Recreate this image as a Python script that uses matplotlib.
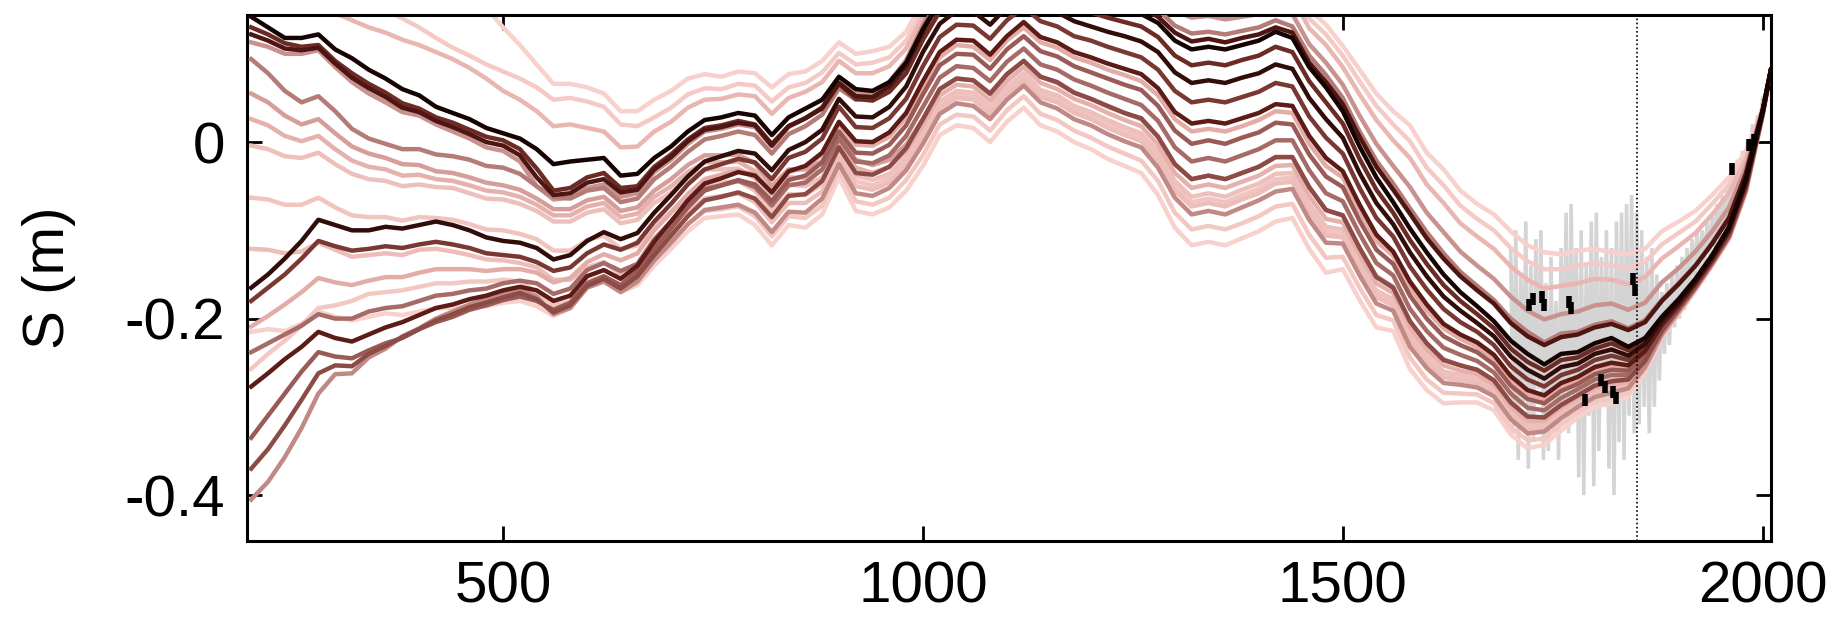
import matplotlib
matplotlib.use("Agg")
import matplotlib.pyplot as plt
from matplotlib.colors import LinearSegmentedColormap

plt.rcParams['font.family'] = ['Liberation Sans', 'DejaVu Sans']

# ---------------- data ----------------
YEARS = list(range(200, 2001, 20)) + [2010]

U_pink = [0.430, 0.420, 0.410, 0.400, 0.400, 0.380, 0.365, 0.350, 0.330, 0.310, 0.270, 0.240,
          0.210, 0.180, 0.152, 0.130, 0.110, 0.088, 0.066, 0.066, 0.062, 0.055, 0.035, 0.035,
          0.048, 0.058, 0.072, 0.077, 0.074, 0.080, 0.078, 0.062, 0.077, 0.080,
          0.092, 0.113, 0.100, 0.103, 0.108, 0.125, 0.160, 0.200, 0.220, 0.220,
          0.210, 0.230, 0.250, 0.240, 0.240, 0.235, 0.230, 0.225, 0.220, 0.215,
          0.210, 0.200, 0.195, 0.195, 0.190, 0.190, 0.190, 0.190, 0.185, 0.150,
          0.133, 0.109, 0.082, 0.055, 0.035, 0.019, -0.012, -0.031, -0.055, -0.070,
          -0.082, -0.101, -0.117, -0.125, -0.127, -0.123, -0.121, -0.125, -0.127, -0.121,
          -0.101, -0.090, -0.078, -0.060, -0.040, -0.010, 0.038, 0.082]

P2_pink = [0.340, 0.330, 0.320, 0.310, 0.310, 0.220, 0.200, 0.175, 0.150, 0.140, 0.130, 0.118,
           0.107, 0.098, 0.088, 0.080, 0.072, 0.062, 0.048, 0.050, 0.046, 0.040, 0.020, 0.018,
           0.028, 0.039, 0.054, 0.061, 0.060, 0.066, 0.064, 0.046, 0.062, 0.067,
           0.079, 0.101, 0.088, 0.090, 0.096, 0.115, 0.150, 0.190, 0.209, 0.209,
           0.198, 0.218, 0.239, 0.228, 0.227, 0.221, 0.216, 0.211, 0.206, 0.201,
           0.195, 0.183, 0.182, 0.182, 0.177, 0.178, 0.179, 0.180, 0.175, 0.140,
           0.122, 0.098, 0.069, 0.041, 0.020, 0.001, -0.029, -0.049, -0.072, -0.087,
           -0.100, -0.120, -0.135, -0.144, -0.144, -0.140, -0.137, -0.140, -0.143, -0.136,
           -0.116, -0.103, -0.090, -0.070, -0.048, -0.015, 0.038, 0.082]

P3_pink = [0.200, 0.190, 0.180, 0.170, 0.165, 0.146, 0.138, 0.130, 0.124, 0.116, 0.110, 0.102,
           0.094, 0.084, 0.072, 0.058, 0.048, 0.035, 0.018, 0.020, 0.016, 0.012, -0.006, -0.005,
           0.012, 0.023, 0.039, 0.048, 0.049, 0.054, 0.052, 0.032, 0.050, 0.057,
           0.068, 0.092, 0.078, 0.078, 0.086, 0.106, 0.142, 0.182, 0.200, 0.200,
           0.188, 0.208, 0.225, 0.213, 0.211, 0.204, 0.199, 0.194, 0.189, 0.184,
           0.176, 0.162, 0.166, 0.167, 0.163, 0.164, 0.166, 0.169, 0.164, 0.129,
           0.110, 0.085, 0.054, 0.025, 0.002, -0.018, -0.048, -0.069, -0.092, -0.107,
           -0.121, -0.141, -0.156, -0.166, -0.163, -0.160, -0.155, -0.156, -0.161, -0.153,
           -0.132, -0.118, -0.103, -0.082, -0.058, -0.020, 0.037, 0.082]

K_black = [0.142, 0.130, 0.118, 0.118, 0.122, 0.105, 0.095, 0.082, 0.072, 0.060, 0.053, 0.040,
           0.033, 0.026, 0.016, 0.010, 0.004, -0.008, -0.025, -0.022, -0.020, -0.018, -0.038, -0.036,
           -0.018, -0.005, 0.012, 0.025, 0.028, 0.033, 0.030, 0.008, 0.028, 0.038,
           0.048, 0.074, 0.060, 0.058, 0.068, 0.090, 0.128, 0.160, 0.175, 0.175,
           0.160, 0.180, 0.195, 0.180, 0.175, 0.165, 0.160, 0.155, 0.150, 0.145,
           0.135, 0.115, 0.105, 0.108, 0.105, 0.110, 0.115, 0.125, 0.118, 0.085,
           0.062, 0.035, -0.005, -0.040, -0.068, -0.098, -0.125, -0.150, -0.170, -0.186,
           -0.203, -0.225, -0.240, -0.252, -0.240, -0.238, -0.228, -0.222, -0.232, -0.222,
           -0.198, -0.178, -0.155, -0.128, -0.096, -0.042, 0.035, 0.082]

A2_dark = [0.130, 0.122, 0.112, 0.108, 0.110, 0.092, 0.078, 0.066, 0.056, 0.044, 0.038, 0.028,
           0.022, 0.014, 0.006, 0.002, -0.008, -0.030, -0.055, -0.052, -0.040, -0.035, -0.052, -0.050,
           -0.028, -0.014, 0.003, 0.016, 0.019, 0.024, 0.020, -0.002, 0.018, 0.027,
           0.038, 0.066, 0.049, 0.047, 0.057, 0.078, 0.116, 0.148, 0.163, 0.162,
           0.147, 0.167, 0.183, 0.167, 0.162, 0.152, 0.147, 0.141, 0.136, 0.131,
           0.119, 0.098, 0.087, 0.090, 0.087, 0.093, 0.098, 0.108, 0.102, 0.069,
           0.045, 0.021, -0.019, -0.054, -0.080, -0.111, -0.138, -0.162, -0.180, -0.195,
           -0.211, -0.234, -0.249, -0.259, -0.247, -0.244, -0.234, -0.228, -0.236, -0.225,
           -0.200, -0.179, -0.156, -0.129, -0.097, -0.043, 0.035, 0.082]

A4_dark = [0.122, 0.115, 0.106, 0.104, 0.107, 0.089, 0.073, 0.061, 0.051, 0.039, 0.034, 0.024,
           0.017, 0.009, 0.000, -0.004, -0.015, -0.040, -0.060, -0.058, -0.046, -0.042, -0.057, -0.054,
           -0.031, -0.017, 0.001, 0.014, 0.017, 0.022, 0.019, -0.004, 0.018, 0.027,
           0.039, 0.067, 0.052, 0.051, 0.063, 0.086, 0.125, 0.159, 0.176, 0.178,
           0.164, 0.184, 0.200, 0.186, 0.182, 0.173, 0.168, 0.162, 0.157, 0.152,
           0.142, 0.124, 0.114, 0.117, 0.113, 0.118, 0.122, 0.130, 0.124, 0.090,
           0.068, 0.043, 0.006, -0.028, -0.054, -0.081, -0.109, -0.132, -0.152, -0.168,
           -0.183, -0.205, -0.220, -0.230, -0.221, -0.218, -0.210, -0.206, -0.213, -0.204,
           -0.180, -0.161, -0.140, -0.115, -0.086, -0.036, 0.036, 0.082]

A3_rosy = [0.113, 0.108, 0.100, 0.100, 0.104, 0.085, 0.068, 0.055, 0.045, 0.034, 0.030, 0.020,
           0.012, 0.004, -0.006, -0.010, -0.022, -0.050, -0.065, -0.063, -0.052, -0.048, -0.062, -0.058,
           -0.034, -0.020, -0.002, 0.012, 0.015, 0.020, 0.017, -0.005, 0.017, 0.027,
           0.039, 0.068, 0.055, 0.055, 0.068, 0.093, 0.133, 0.169, 0.189, 0.193,
           0.180, 0.200, 0.217, 0.204, 0.201, 0.193, 0.188, 0.183, 0.178, 0.173,
           0.165, 0.149, 0.141, 0.143, 0.139, 0.142, 0.145, 0.151, 0.145, 0.111,
           0.090, 0.065, 0.030, -0.002, -0.027, -0.051, -0.080, -0.102, -0.124, -0.140,
           -0.155, -0.175, -0.191, -0.201, -0.195, -0.192, -0.185, -0.183, -0.190, -0.182,
           -0.159, -0.143, -0.124, -0.101, -0.074, -0.029, 0.036, 0.082]

B1_brown = [0.094, 0.078, 0.058, 0.045, 0.052, 0.035, 0.015, 0.004, -0.002, -0.008, -0.008, -0.014,
            -0.016, -0.020, -0.027, -0.029, -0.036, -0.050, -0.062, -0.064, -0.055, -0.052, -0.068, -0.064,
            -0.042, -0.028, -0.011, 0.003, 0.007, 0.012, 0.008, -0.013, 0.009, 0.018,
            0.031, 0.061, 0.048, 0.050, 0.064, 0.090, 0.130, 0.164, 0.182, 0.184,
            0.170, 0.190, 0.206, 0.192, 0.188, 0.179, 0.174, 0.169, 0.164, 0.159,
            0.150, 0.132, 0.123, 0.125, 0.122, 0.126, 0.130, 0.138, 0.131, 0.098,
            0.076, 0.050, 0.012, -0.021, -0.047, -0.075, -0.102, -0.126, -0.147, -0.163,
            -0.179, -0.200, -0.215, -0.227, -0.217, -0.215, -0.207, -0.203, -0.211, -0.202,
            -0.179, -0.160, -0.140, -0.114, -0.085, -0.036, 0.036, 0.082]

B2_rosy = [0.055, 0.045, 0.030, 0.020, 0.026, 0.010, -0.005, -0.013, -0.018, -0.025, -0.026, -0.033,
           -0.035, -0.040, -0.046, -0.049, -0.054, -0.064, -0.076, -0.076, -0.066, -0.062, -0.078, -0.074,
           -0.055, -0.042, -0.026, -0.015, -0.015, -0.014, -0.024, -0.050, -0.031, -0.031,
           -0.022, 0.008, -0.020, -0.026, -0.020, -0.003, 0.026, 0.060, 0.072, 0.070,
           0.054, 0.076, 0.092, 0.074, 0.067, 0.056, 0.049, 0.040, 0.033, 0.026,
           0.006, -0.025, -0.042, -0.038, -0.042, -0.035, -0.028, -0.017, -0.017, -0.051,
           -0.077, -0.083, -0.120, -0.152, -0.164, -0.203, -0.228, -0.246, -0.253, -0.258,
           -0.270, -0.295, -0.311, -0.312, -0.297, -0.287, -0.276, -0.271, -0.269, -0.248,
           -0.214, -0.189, -0.164, -0.136, -0.105, -0.053, 0.032, 0.082]

B4_pink = [0.026, 0.019, 0.007, 0.001, 0.007, -0.008, -0.021, -0.028, -0.031, -0.038, -0.037, -0.042,
           -0.044, -0.049, -0.055, -0.057, -0.062, -0.071, -0.083, -0.083, -0.073, -0.069, -0.085, -0.081,
           -0.062, -0.050, -0.034, -0.023, -0.023, -0.022, -0.033, -0.059, -0.040, -0.041,
           -0.031, 0.000, -0.029, -0.035, -0.028, -0.010, 0.019, 0.053, 0.065, 0.063,
           0.047, 0.069, 0.085, 0.067, 0.060, 0.049, 0.042, 0.033, 0.025, 0.018,
           -0.003, -0.035, -0.052, -0.048, -0.052, -0.045, -0.038, -0.027, -0.026, -0.061,
           -0.087, -0.091, -0.128, -0.160, -0.171, -0.210, -0.235, -0.253, -0.259, -0.263,
           -0.275, -0.300, -0.316, -0.316, -0.301, -0.291, -0.279, -0.275, -0.272, -0.250,
           -0.215, -0.190, -0.165, -0.137, -0.106, -0.054, 0.032, 0.082]

B3_pink = [-0.004, -0.008, -0.016, -0.018, -0.012, -0.025, -0.036, -0.042, -0.044, -0.050, -0.048, -0.051,
           -0.052, -0.058, -0.064, -0.065, -0.070, -0.078, -0.090, -0.090, -0.080, -0.076, -0.092, -0.088,
           -0.069, -0.057, -0.041, -0.031, -0.031, -0.030, -0.041, -0.067, -0.048, -0.050,
           -0.040, -0.007, -0.038, -0.043, -0.036, -0.017, 0.012, 0.046, 0.058, 0.056,
           0.040, 0.062, 0.078, 0.059, 0.053, 0.041, 0.034, 0.025, 0.017, 0.010,
           -0.011, -0.044, -0.062, -0.058, -0.062, -0.054, -0.047, -0.036, -0.035, -0.070,
           -0.096, -0.099, -0.136, -0.168, -0.178, -0.217, -0.242, -0.260, -0.264, -0.268,
           -0.279, -0.305, -0.320, -0.320, -0.305, -0.294, -0.282, -0.278, -0.274, -0.251,
           -0.216, -0.191, -0.165, -0.137, -0.107, -0.054, 0.031, 0.082]

B5_pink = [-0.063, -0.065, -0.071, -0.071, -0.063, -0.074, -0.083, -0.085, -0.085, -0.089, -0.085, -0.086,
           -0.088, -0.093, -0.099, -0.100, -0.104, -0.110, -0.123, -0.123, -0.111, -0.106, -0.121, -0.117,
           -0.095, -0.079, -0.061, -0.048, -0.046, -0.044, -0.055, -0.079, -0.059, -0.060,
           -0.048, -0.012, -0.044, -0.049, -0.041, -0.022, 0.008, 0.042, 0.054, 0.052,
           0.036, 0.058, 0.074, 0.055, 0.049, 0.037, 0.030, 0.021, 0.013, 0.006,
           -0.016, -0.050, -0.068, -0.064, -0.068, -0.060, -0.053, -0.042, -0.040, -0.075,
           -0.101, -0.104, -0.140, -0.172, -0.182, -0.221, -0.246, -0.264, -0.267, -0.271,
           -0.282, -0.308, -0.323, -0.323, -0.308, -0.296, -0.284, -0.280, -0.276, -0.252,
           -0.217, -0.192, -0.165, -0.138, -0.107, -0.055, 0.031, 0.082]

C1_dark = [-0.165, -0.150, -0.132, -0.112, -0.088, -0.094, -0.100, -0.100, -0.096, -0.098, -0.094, -0.090,
           -0.094, -0.100, -0.108, -0.112, -0.114, -0.120, -0.133, -0.128, -0.112, -0.102, -0.110, -0.103,
           -0.080, -0.060, -0.039, -0.022, -0.016, -0.010, -0.013, -0.032, -0.009, 0.000,
           0.014, 0.049, 0.029, 0.028, 0.040, 0.063, 0.102, 0.134, 0.149, 0.148,
           0.133, 0.153, 0.169, 0.153, 0.147, 0.137, 0.131, 0.125, 0.120, 0.114,
           0.102, 0.079, 0.067, 0.070, 0.067, 0.073, 0.078, 0.088, 0.083, 0.050,
           0.026, 0.005, -0.035, -0.069, -0.093, -0.125, -0.152, -0.175, -0.191, -0.205,
           -0.220, -0.243, -0.258, -0.268, -0.255, -0.251, -0.240, -0.235, -0.242, -0.229,
           -0.202, -0.181, -0.157, -0.130, -0.098, -0.045, 0.034, 0.082]

C2_maroon = [-0.180, -0.165, -0.150, -0.132, -0.112, -0.118, -0.123, -0.121, -0.118, -0.120, -0.116, -0.113,
             -0.116, -0.120, -0.126, -0.128, -0.130, -0.136, -0.146, -0.142, -0.126, -0.116, -0.122, -0.114,
             -0.090, -0.070, -0.048, -0.031, -0.025, -0.019, -0.023, -0.042, -0.018, -0.011,
             0.004, 0.040, 0.017, 0.016, 0.027, 0.049, 0.086, 0.119, 0.133, 0.132,
             0.117, 0.138, 0.153, 0.137, 0.131, 0.120, 0.115, 0.108, 0.102, 0.096,
             0.082, 0.058, 0.045, 0.048, 0.045, 0.051, 0.057, 0.067, 0.063, 0.029,
             0.005, -0.013, -0.052, -0.086, -0.107, -0.141, -0.167, -0.189, -0.204, -0.215,
             -0.230, -0.254, -0.269, -0.277, -0.264, -0.258, -0.247, -0.242, -0.247, -0.233,
             -0.205, -0.183, -0.159, -0.131, -0.100, -0.046, 0.034, 0.082]

C3_pink = [-0.209, -0.197, -0.184, -0.170, -0.154, -0.159, -0.162, -0.157, -0.153, -0.153, -0.148, -0.144,
           -0.144, -0.144, -0.146, -0.144, -0.144, -0.148, -0.159, -0.154, -0.136, -0.127, -0.134, -0.126,
           -0.100, -0.080, -0.059, -0.042, -0.037, -0.032, -0.037, -0.057, -0.034, -0.029,
           -0.014, 0.020, -0.003, -0.004, 0.006, 0.028, 0.063, 0.096, 0.110, 0.108,
           0.093, 0.115, 0.130, 0.113, 0.107, 0.096, 0.090, 0.082, 0.076, 0.069,
           0.053, 0.026, 0.012, 0.015, 0.012, 0.018, 0.025, 0.035, 0.033, -0.002,
           -0.027, -0.040, -0.078, -0.112, -0.129, -0.165, -0.191, -0.211, -0.223, -0.232,
           -0.246, -0.270, -0.285, -0.291, -0.277, -0.269, -0.258, -0.253, -0.256, -0.239,
           -0.209, -0.186, -0.161, -0.133, -0.102, -0.049, 0.033, 0.082]

C4_brown = [-0.238, -0.228, -0.218, -0.208, -0.195, -0.200, -0.200, -0.192, -0.188, -0.186, -0.180, -0.174,
            -0.172, -0.168, -0.166, -0.160, -0.157, -0.160, -0.172, -0.166, -0.145, -0.137, -0.146, -0.138,
            -0.110, -0.090, -0.069, -0.053, -0.049, -0.044, -0.051, -0.072, -0.049, -0.046,
            -0.031, 0.004, -0.022, -0.024, -0.015, 0.007, 0.040, 0.073, 0.086, 0.084,
            0.069, 0.091, 0.106, 0.088, 0.082, 0.071, 0.064, 0.056, 0.049, 0.042,
            0.024, -0.006, -0.022, -0.018, -0.022, -0.015, -0.008, 0.002, 0.002, -0.032,
            -0.058, -0.067, -0.104, -0.137, -0.151, -0.189, -0.214, -0.233, -0.241, -0.248,
            -0.261, -0.285, -0.301, -0.304, -0.290, -0.280, -0.269, -0.264, -0.264, -0.244,
            -0.212, -0.188, -0.162, -0.135, -0.104, -0.051, 0.032, 0.082]

C5_maroon = [-0.277, -0.262, -0.246, -0.232, -0.215, -0.222, -0.226, -0.218, -0.210, -0.204, -0.196, -0.188,
             -0.184, -0.178, -0.174, -0.168, -0.164, -0.168, -0.180, -0.174, -0.152, -0.145, -0.155, -0.140,
             -0.113, -0.090, -0.066, -0.047, -0.041, -0.034, -0.038, -0.057, -0.033, -0.027,
             -0.012, 0.023, 0.001, 0.000, 0.011, 0.033, 0.069, 0.102, 0.116, 0.115,
             0.099, 0.120, 0.136, 0.119, 0.113, 0.102, 0.096, 0.089, 0.083, 0.077,
             0.061, 0.034, 0.021, 0.024, 0.021, 0.027, 0.033, 0.043, 0.041, 0.007,
             -0.018, -0.033, -0.071, -0.105, -0.124, -0.158, -0.184, -0.206, -0.218, -0.227,
             -0.241, -0.265, -0.281, -0.287, -0.273, -0.266, -0.255, -0.250, -0.253, -0.237,
             -0.207, -0.185, -0.160, -0.133, -0.101, -0.048, 0.033, 0.082]

C6_brown = [-0.335, -0.310, -0.285, -0.260, -0.238, -0.243, -0.245, -0.236, -0.228, -0.222, -0.212, -0.204,
            -0.198, -0.190, -0.185, -0.179, -0.175, -0.180, -0.190, -0.182, -0.160, -0.152, -0.162, -0.146,
            -0.121, -0.098, -0.074, -0.055, -0.049, -0.043, -0.048, -0.067, -0.043, -0.038,
            -0.023, 0.012, -0.012, -0.013, -0.003, 0.019, 0.054, 0.087, 0.100, 0.099,
            0.083, 0.105, 0.120, 0.103, 0.097, 0.086, 0.079, 0.072, 0.065, 0.059,
            0.041, 0.013, -0.002, 0.002, -0.002, 0.005, 0.011, 0.022, 0.020, -0.014,
            -0.039, -0.051, -0.089, -0.122, -0.138, -0.174, -0.200, -0.220, -0.230, -0.238,
            -0.252, -0.276, -0.291, -0.296, -0.282, -0.274, -0.263, -0.258, -0.259, -0.241,
            -0.210, -0.186, -0.161, -0.134, -0.103, -0.050, 0.033, 0.082]

C8_brown = [-0.370, -0.348, -0.321, -0.292, -0.262, -0.253, -0.254, -0.240, -0.231, -0.221, -0.212, -0.202,
            -0.195, -0.187, -0.182, -0.176, -0.171, -0.178, -0.193, -0.185, -0.163, -0.155, -0.166, -0.152,
            -0.128, -0.106, -0.084, -0.066, -0.062, -0.057, -0.064, -0.085, -0.061, -0.059,
            -0.044, -0.006, -0.035, -0.037, -0.028, -0.007, 0.026, 0.060, 0.072, 0.070,
            0.055, 0.077, 0.092, 0.074, 0.068, 0.056, 0.049, 0.041, 0.033, 0.027,
            0.006, -0.025, -0.042, -0.038, -0.042, -0.035, -0.028, -0.017, -0.017, -0.051,
            -0.077, -0.083, -0.120, -0.153, -0.165, -0.203, -0.228, -0.247, -0.253, -0.258,
            -0.270, -0.295, -0.311, -0.312, -0.298, -0.287, -0.276, -0.271, -0.269, -0.248,
            -0.214, -0.189, -0.164, -0.136, -0.106, -0.053, 0.032, 0.082]

C7_rosy = [-0.405, -0.385, -0.357, -0.324, -0.285, -0.263, -0.262, -0.244, -0.234, -0.220, -0.211, -0.200,
           -0.192, -0.184, -0.178, -0.172, -0.167, -0.175, -0.195, -0.188, -0.165, -0.158, -0.170, -0.158,
           -0.134, -0.114, -0.093, -0.077, -0.074, -0.071, -0.080, -0.102, -0.079, -0.080,
           -0.064, -0.025, -0.058, -0.061, -0.052, -0.032, -0.002, 0.032, 0.044, 0.041,
           0.026, 0.048, 0.064, 0.045, 0.038, 0.026, 0.019, 0.009, 0.001, -0.006,
           -0.029, -0.063, -0.082, -0.078, -0.082, -0.074, -0.066, -0.056, -0.053, -0.088,
           -0.114, -0.115, -0.151, -0.183, -0.191, -0.232, -0.256, -0.273, -0.275, -0.278,
           -0.288, -0.314, -0.330, -0.328, -0.313, -0.300, -0.289, -0.284, -0.279, -0.255,
           -0.218, -0.192, -0.166, -0.138, -0.108, -0.055, 0.031, 0.082]

PA_pink = [-0.121, -0.122, -0.126, -0.124, -0.114, -0.122, -0.130, -0.128, -0.126, -0.128, -0.122, -0.121,
           -0.124, -0.128, -0.133, -0.134, -0.137, -0.142, -0.156, -0.156, -0.142, -0.136, -0.150, -0.145,
           -0.121, -0.101, -0.080, -0.064, -0.061, -0.058, -0.068, -0.091, -0.069, -0.069,
           -0.056, -0.018, -0.050, -0.054, -0.046, -0.026, 0.004, 0.038, 0.050, 0.048,
           0.032, 0.054, 0.070, 0.051, 0.045, 0.033, 0.026, 0.016, 0.008, 0.001,
           -0.021, -0.055, -0.073, -0.069, -0.073, -0.065, -0.058, -0.047, -0.045, -0.080,
           -0.106, -0.108, -0.144, -0.176, -0.185, -0.225, -0.250, -0.267, -0.270, -0.273,
           -0.284, -0.310, -0.326, -0.325, -0.310, -0.297, -0.286, -0.281, -0.277, -0.253,
           -0.217, -0.192, -0.165, -0.138, -0.107, -0.055, 0.031, 0.082]

PB_pink = [-0.257, -0.240, -0.225, -0.208, -0.188, -0.185, -0.180, -0.172, -0.170, -0.168, -0.164, -0.160,
           -0.160, -0.158, -0.158, -0.156, -0.158, -0.170, -0.185, -0.180, -0.158, -0.152, -0.164, -0.152,
           -0.132, -0.113, -0.093, -0.078, -0.076, -0.073, -0.084, -0.107, -0.084, -0.086,
           -0.072, -0.032, -0.067, -0.071, -0.063, -0.043, -0.015, 0.020, 0.031, 0.029,
           0.013, 0.036, 0.052, 0.032, 0.025, 0.013, 0.005, -0.005, -0.013, -0.021,
           -0.044, -0.080, -0.099, -0.095, -0.099, -0.092, -0.084, -0.073, -0.070, -0.105,
           -0.131, -0.130, -0.165, -0.196, -0.202, -0.244, -0.269, -0.284, -0.285, -0.286,
           -0.296, -0.323, -0.338, -0.336, -0.320, -0.306, -0.294, -0.290, -0.284, -0.258,
           -0.220, -0.194, -0.167, -0.139, -0.109, -0.057, 0.030, 0.082]

L_pink = [-0.215, -0.212, -0.214, -0.206, -0.192, -0.198, -0.202, -0.198, -0.194, -0.196, -0.192, -0.188,
          -0.188, -0.186, -0.186, -0.182, -0.180, -0.186, -0.197, -0.188, -0.164, -0.157, -0.170, -0.162,
          -0.140, -0.121, -0.101, -0.086, -0.084, -0.082, -0.094, -0.117, -0.094, -0.097,
          -0.082, -0.040, -0.078, -0.082, -0.074, -0.055, -0.027, 0.008, 0.019, 0.016,
          0.000, 0.023, 0.039, 0.019, 0.012, 0.000, -0.008, -0.019, -0.027, -0.035,
          -0.060, -0.097, -0.117, -0.113, -0.117, -0.109, -0.101, -0.090, -0.086, -0.121,
          -0.148, -0.144, -0.179, -0.210, -0.214, -0.257, -0.281, -0.296, -0.295, -0.295,
          -0.304, -0.331, -0.347, -0.343, -0.327, -0.312, -0.300, -0.296, -0.288, -0.261,
          -0.222, -0.195, -0.168, -0.140, -0.110, -0.058, 0.030, 0.082]

# darkness of each ensemble member (0 = light pink, 1 = black)
SERIES = [
    ("U_pink", U_pink, 0.00), ("L_pink", L_pink, 0.00), ("P2_pink", P2_pink, 0.05),
    ("PB_pink", PB_pink, 0.08), ("B5_pink", B5_pink, 0.10), ("B3_pink", B3_pink, 0.14),
    ("PA_pink", PA_pink, 0.16), ("P3_pink", P3_pink, 0.22), ("B4_pink", B4_pink, 0.26),
    ("C3_pink", C3_pink, 0.30), ("B2_rosy", B2_rosy, 0.38), ("A3_rosy", A3_rosy, 0.45),
    ("C7_rosy", C7_rosy, 0.50), ("B1_brown", B1_brown, 0.55), ("C4_brown", C4_brown, 0.60),
    ("C6_brown", C6_brown, 0.65), ("C8_brown", C8_brown, 0.70), ("C2_maroon", C2_maroon, 0.76),
    ("A2_dark", A2_dark, 0.80), ("C5_maroon", C5_maroon, 0.85), ("A4_dark", A4_dark, 0.88),
    ("C1_dark", C1_dark, 0.94), ("K_black", K_black, 1.00),
]

# tide-gauge style grey record (every 3 years)
GREY_YEARS = list(range(1700, 2001, 3))
GREY_VALS = [-0.12, -0.33, -0.10, -0.36, -0.15, -0.30, -0.09, -0.37, -0.14, -0.34,
             -0.11, -0.28, -0.10, -0.36, -0.16, -0.35, -0.13, -0.33, -0.18, -0.36,
             -0.12, -0.30, -0.08, -0.33, -0.07, -0.29, -0.12, -0.38, -0.10, -0.40,
             -0.14, -0.31, -0.09, -0.39, -0.08, -0.35, -0.13, -0.30, -0.10, -0.37,
             -0.12, -0.40, -0.09, -0.34, -0.08, -0.36, -0.07, -0.31, -0.06, -0.33,
             -0.08, -0.32, -0.10, -0.30, -0.13, -0.33, -0.12, -0.30, -0.15, -0.27,
             -0.17, -0.24, -0.16, -0.23, -0.15, -0.21, -0.14, -0.20, -0.13, -0.19,
             -0.12, -0.17, -0.11, -0.16, -0.10, -0.15, -0.10, -0.14, -0.09, -0.13,
             -0.08, -0.12, -0.07, -0.11, -0.06, -0.10, -0.05, -0.08, -0.03, -0.07,
             -0.02, -0.05, -0.01, -0.04, 0.00, -0.02, 0.02, 0.00, 0.03, 0.02,
             0.05]

BLACK_YEARS = [1722, 1727, 1737, 1740, 1770, 1772, 1788, 1808, 1812, 1822, 1825, 1846, 1848, 1963, 1984, 1990]
BLACK_VALS = [-0.185, -0.178, -0.176, -0.185, -0.181, -0.188, -0.292, -0.270, -0.278, -0.283, -0.290,
              -0.155, -0.168, -0.030, -0.003, 0.002]

CALIB_YEAR = 1850
X_TICKS = [500, 1000, 1500, 2000]
Y_TICKS = [-0.4, -0.2, 0.0]
Y_TICK_LABELS = ["-0.4", "-0.2", "0"]

for name, s, _ in SERIES:
    if len(s) != len(YEARS):
        raise ValueError(f"{name}: {len(s)} values vs {len(YEARS)} years")
assert len(GREY_VALS) == len(GREY_YEARS)

# ---------------- plot ----------------
cmap = LinearSegmentedColormap.from_list(
    "pink_black",
    [(0.0, "#f8d0cc"), (0.3, "#e3aca7"), (0.5, "#c08a86"), (0.7, "#8e4c47"),
     (0.85, "#5c1b16"), (1.0, "#160402")])

fig = plt.figure(figsize=(18.43, 6.36), dpi=100)
ax = fig.add_axes([247 / 1843, 1 - 541 / 636, (1771 - 247) / 1843, (541 - 15) / 636])

ax.plot(GREY_YEARS, GREY_VALS, color="#d4d4d4", lw=2.6, solid_joinstyle="miter", zorder=1)

for name, s, c in sorted(SERIES, key=lambda t: t[2]):
    ax.plot(YEARS, s, color=cmap(c), lw=3.2, solid_joinstyle="round", zorder=2 + c)

ax.plot(BLACK_YEARS, BLACK_VALS, linestyle="none", marker="|", markersize=9,
        markeredgewidth=4, color="black", zorder=5)

ax.axvline(CALIB_YEAR, color="black", ls=(0, (1, 1.5)), lw=1.2, zorder=6)

ax.set_xlim(195, 2010)
ax.set_ylim(-0.452, 0.144)
ax.set_xticks(X_TICKS)
ax.set_xticklabels([str(v) for v in X_TICKS])
ax.set_yticks(Y_TICKS)
ax.set_yticklabels(Y_TICK_LABELS)

ax.tick_params(direction="in", length=11, width=2, labelsize=42,
               top=True, right=True, pad=14)
ax.tick_params(axis="y", pad=16)
for sp in ax.spines.values():
    sp.set_linewidth(2.2)

ax.set_ylabel("S (m)", fontsize=42)
ax.yaxis.set_label_coords(-0.112, 0.5)

fig.savefig("out.png", dpi=100)
